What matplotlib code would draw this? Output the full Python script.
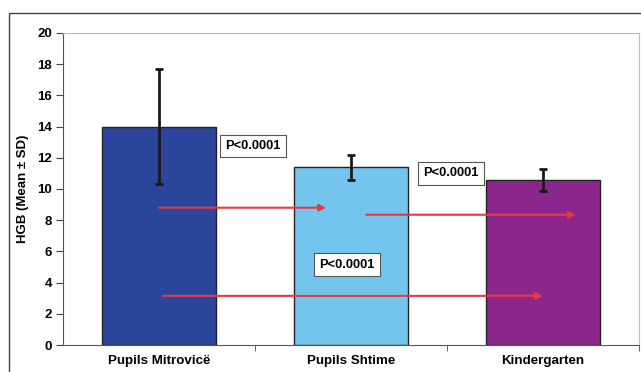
import matplotlib.pyplot as plt
from matplotlib.patches import Rectangle

plt.rcParams['font.family'] = ['Liberation Sans', 'DejaVu Sans']
plt.rcParams['font.weight'] = 'bold'

groups = ['Pupils Mitrovicë', 'Pupils Shtime', 'Kindergarten']
means = [14.0, 11.4, 10.6]
sds = [3.7, 0.8, 0.7]
colors = ['#2A459B', '#74C5EE', '#8B278C']

# p-value labels: (x, y) in data units
p_labels = ['P<0.0001', 'P<0.0001', 'P<0.0001']
p_pos = [(0.49, 12.75), (1.52, 11.0), (0.98, 5.15)]

# arrows: start x, end x, y
arrows = [(0.0, 0.87, 8.8), (1.08, 2.17, 8.35), (0.02, 2.0, 3.15)]

fig = plt.figure(figsize=(6.41, 3.72), dpi=100)
ax = fig.add_axes([63 / 641, 27 / 372, 576 / 641, 312 / 372])

# outer frame
fig.patches.append(Rectangle((9 / 641, -0.1), 1.0, (372 - 13) / 372 + 0.1,
                             transform=fig.transFigure, fill=False,
                             edgecolor='#444444', linewidth=1.0))

x = range(len(groups))
ax.bar(x, means, width=0.59, color=colors, edgecolor='#222222', linewidth=1.0, zorder=2)
ax.errorbar(x, means, yerr=sds, fmt='none', ecolor='#1a1a1a', elinewidth=2.0,
            capsize=3, capthick=2.0, zorder=3)

for (x0, x1, y) in arrows:
    ax.annotate('', xy=(x1, y), xytext=(x0, y),
                arrowprops=dict(arrowstyle='-|>', color='#E8383D', lw=1.5,
                                mutation_scale=10, shrinkA=0, shrinkB=0), zorder=4)

for lab, (px, py) in zip(p_labels, p_pos):
    ax.text(px, py, lab, ha='center', va='center', fontsize=9.3, fontweight='bold',
            bbox=dict(boxstyle='square,pad=0.4', facecolor='white',
                      edgecolor='#555555', linewidth=0.8), zorder=5)

ax.set_xlim(-0.5, 2.5)
ax.set_ylim(0, 20)
ax.set_yticks(range(0, 21, 2))
ax.set_xticks(list(x))
ax.set_xticklabels(groups, fontsize=9.6, fontweight='bold')
ax.set_xticks([0.5, 1.5, 2.5], minor=True)
ax.tick_params(axis='x', which='major', length=0, pad=7)
ax.tick_params(axis='x', which='minor', length=4, color='#444444', direction='out')
ax.tick_params(axis='y', labelsize=9.5, length=5, pad=3, color='#444444', direction='out')
for t in ax.get_yticklabels():
    t.set_fontweight('bold')
ax.set_ylabel('HGB (Mean ± SD)', fontsize=9.5, fontweight='bold', labelpad=6)

ax.spines['left'].set_color('#555555')
ax.spines['bottom'].set_color('#555555')
ax.spines['top'].set_color('#BBBBBB')
ax.spines['right'].set_color('#BBBBBB')

plt.savefig('out.png', dpi=100)
